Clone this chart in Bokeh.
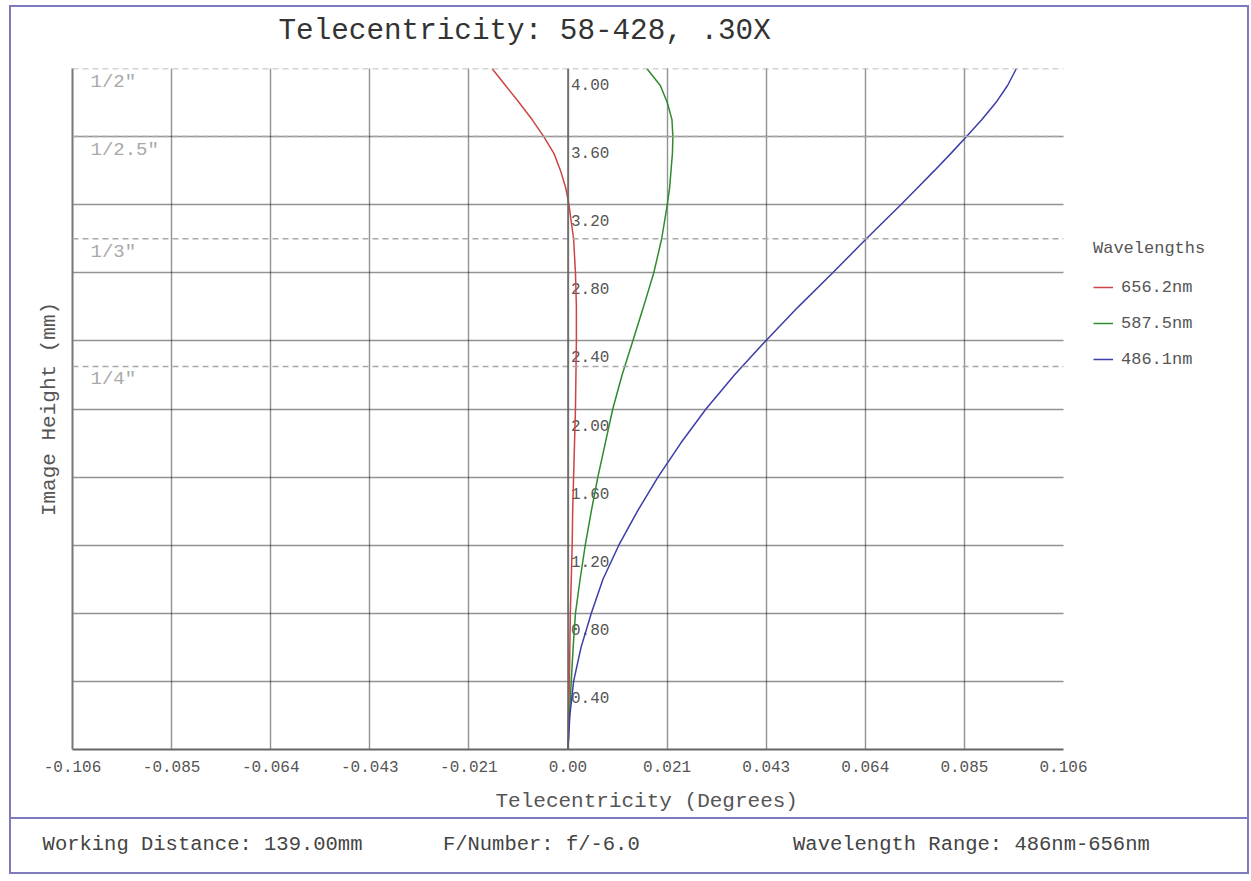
from bokeh.plotting import figure
from bokeh.models import (Range1d, FixedTicker, Span, Title,
                          Legend, LegendItem, LinearAxis, Grid)
from bokeh.embed import file_html
from bokeh.resources import INLINE
from bokeh.core.properties import value

FONT = "Liberation Mono"

# ---------------- data ----------------
title_text = "Telecentricity: 58-428, .30X"
x_axis_title = "Telecentricity (Degrees)"
y_axis_title = "Image Height (mm)"

x_limit = 0.1063
x_ticks = [-0.1063, -0.08504, -0.06378, -0.04252, -0.02126, 0.0,
           0.02126, 0.04252, 0.06378, 0.08504, 0.1063]
x_tick_labels = ["-0.106", "-0.085", "-0.064", "-0.043", "-0.021", "0.00",
                 "0.021", "0.043", "0.064", "0.085", "0.106"]

y_max = 4.0
y_ticks = [0.4, 0.8, 1.2, 1.6, 2.0, 2.4, 2.8, 3.2, 3.6, 4.0]
y_tick_labels = ["0.40", "0.80", "1.20", "1.60", "2.00", "2.40", "2.80", "3.20", "3.60", "4.00"]

sensor_labels = ['1/2"', '1/2.5"', '1/3"', '1/4"']
sensor_heights = [4.0, 3.6, 3.0, 2.25]

image_height = [0.0, 0.2, 0.4, 0.6, 0.8, 1.0, 1.2, 1.4, 1.6, 1.8, 2.0, 2.2, 2.4, 2.6,
                2.8, 3.0, 3.2, 3.3, 3.4, 3.5, 3.6, 3.7, 3.8, 3.9, 4.0]
tele_656 = [0.0, 0.0001, 0.0003, 0.0004, 0.0005, 0.0007, 0.0009, 0.0010, 0.0012, 0.0014,
            0.0016, 0.0017, 0.0018, 0.0018, 0.0016, 0.0012, 0.0002, -0.0005, -0.0016,
            -0.0030, -0.0052, -0.0077, -0.0105, -0.0134, -0.0163]
tele_587 = [0.0, 0.0003, 0.0007, 0.0011, 0.0016, 0.0026, 0.0037, 0.0050, 0.0064, 0.0080,
            0.0096, 0.0116, 0.0139, 0.0162, 0.0184, 0.0201, 0.0213, 0.0218, 0.0221,
            0.0224, 0.0225, 0.0223, 0.0213, 0.0198, 0.0169]
tele_486 = [0.0, 0.0004, 0.0012, 0.0028, 0.0050, 0.0075, 0.0109, 0.0149, 0.0193, 0.0242,
            0.0296, 0.0357, 0.0424, 0.0494, 0.0568, 0.0640, 0.0714, 0.0750, 0.0786,
            0.0821, 0.0855, 0.0888, 0.0918, 0.0943, 0.0962]

series_names = ["656.2nm", "587.5nm", "486.1nm"]
legend_title = "Wavelengths"

footer_texts = ["Working Distance: 139.00mm", "F/Number: f/-6.0", "Wavelength Range: 486nm-656nm"]

# ---------------- styling / layout ----------------
BORDER = "2px solid #7d7bbb"
BOX_W = 1240          # outer width of the framed boxes (incl. border)
W = BOX_W - 4         # canvas width inside the borders
FRAME_W, FRAME_H = 991, 681
ML, MT = 61, 61
MR = W - ML - FRAME_W
MAIN_H = 810
MB = MAIN_H - MT - FRAME_H
TEXT_GRAY = "#555555"

p = figure(frame_width=FRAME_W, frame_height=FRAME_H,
           min_border_left=ML, min_border_right=MR, min_border_top=MT, min_border_bottom=MB,
           x_range=Range1d(-x_limit, x_limit), y_range=Range1d(0, y_max),
           x_axis_type=None, y_axis_type=None,
           output_backend="svg", toolbar_location=None)
p.outline_line_color = None
p.background_fill_color = "white"
p.border_fill_color = "white"
p.styles = {"border": BORDER, "margin": "5px 0 0 9px", "box-sizing": "border-box",
            "width": f"{BOX_W}px", "height": f"{MAIN_H + 4}px", "overflow": "hidden"}

# title (a blank spacer title sits between the frame and the real title)
p.add_layout(Title(text=" ", text_font_size="10px", standoff=8), "above")
p.add_layout(Title(text=title_text, align="left", offset=206, standoff=0,
                   text_font=FONT, text_font_size="29.3px", text_font_style="normal",
                   text_color="#333333"), "above")

# grid
grid_style = dict(grid_line_color="#000000", grid_line_dash="1 1", grid_line_width=1.4,
                  grid_line_alpha=0.85)
p.add_layout(Grid(dimension=0, ticker=FixedTicker(ticks=x_ticks), **grid_style))
p.add_layout(Grid(dimension=1, ticker=FixedTicker(ticks=y_ticks), **grid_style))

# left axis: line + title only
yax = LinearAxis(ticker=FixedTicker(ticks=[]), axis_line_color="#777777", axis_line_width=2,
                 major_tick_out=0, major_tick_in=0, minor_tick_out=0, minor_tick_in=0,
                 major_label_standoff=0, axis_label=y_axis_title, axis_label_standoff=12,
                 axis_label_text_font=FONT, axis_label_text_font_size="21px",
                 axis_label_text_font_style="normal", axis_label_text_color=TEXT_GRAY)
p.add_layout(yax, "left")

# bottom axis: line + tick labels
xax = LinearAxis(ticker=FixedTicker(ticks=x_ticks),
                 major_label_overrides={t: s for t, s in zip(x_ticks, x_tick_labels)},
                 axis_line_color="#666666", axis_line_width=2,
                 major_tick_out=0, major_tick_in=0, minor_tick_out=0, minor_tick_in=0,
                 major_label_standoff=11, major_label_text_font=FONT,
                 major_label_text_font_size="16px", major_label_text_color=TEXT_GRAY)
p.add_layout(xax, "below")
p.add_layout(Title(text=x_axis_title, align="left", offset=423, standoff=26,
                   text_font=FONT, text_font_size="21px", text_font_style="normal",
                   text_color=TEXT_GRAY), "below")

# sensor format lines
for h in sensor_heights:
    p.add_layout(Span(location=h, dimension="width", line_color="#a9a9a9",
                      line_dash="6 4", line_width=1.5))
p.text(x=[-x_limit] * len(sensor_heights), y=sensor_heights, text=sensor_labels,
       x_offset=18, y_offset=13, text_baseline="middle", text_align="left",
       text_font=value(FONT), text_font_size="19px", text_color="#a9a9a9")

# center axis line
p.add_layout(Span(location=0, dimension="height", line_color="#666666", line_width=1.5))

# y tick labels along center line
p.text(x=[0.0] * len(y_ticks), y=y_ticks, text=y_tick_labels, x_offset=3, y_offset=16,
       text_baseline="middle", text_align="left", text_font=value(FONT),
       text_font_size="16px", text_color=TEXT_GRAY)

# curves
colors = ["#cc4444", "#2e8b2e", "#3d3da8"]
r1 = p.line(tele_656, image_height, line_color=colors[0], line_width=1.5)
r2 = p.line(tele_587, image_height, line_color=colors[1], line_width=1.5)
r3 = p.line(tele_486, image_height, line_color=colors[2], line_width=1.5)

legend = Legend(items=[LegendItem(label=series_names[0], renderers=[r1]),
                       LegendItem(label=series_names[1], renderers=[r2]),
                       LegendItem(label=series_names[2], renderers=[r3])],
                title=legend_title, location=(30, 380),
                label_text_font=FONT, label_text_font_size="17px", label_text_color=TEXT_GRAY,
                title_text_font=FONT, title_text_font_size="17px", title_text_color=TEXT_GRAY,
                title_text_font_style="normal", title_standoff=19,
                glyph_width=20, glyph_height=20, label_standoff=8, spacing=16,
                padding=0, margin=0, border_line_color=None, background_fill_alpha=0)
p.add_layout(legend, "right")

# footer
FH = 55                 # outer height incl. bottom border
FCH = FH - 2            # canvas height
f = figure(width=W, height=FCH, x_range=Range1d(0, W), y_range=Range1d(0, FCH),
           x_axis_type=None, y_axis_type=None, output_backend="svg", toolbar_location=None,
           min_border=0)
f.outline_line_color = None
f.grid.visible = False
f.styles = {"border": BORDER, "border-top": "none", "margin": "0 0 0 9px",
            "box-sizing": "border-box", "width": f"{BOX_W}px", "height": f"{FH}px",
            "overflow": "hidden"}
f.text(x=[31, 430, 779], y=[FCH - 24] * 3, text=footer_texts, text_align="left",
       text_baseline="middle", text_font=value(FONT), text_font_size="20.5px",
       text_color="#444444")

open("out.html", "w").write(file_html([p, f], INLINE))
